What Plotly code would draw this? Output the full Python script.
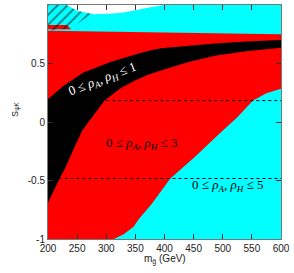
import plotly.graph_objects as go

# ---- data ----
cyan_top_m = [200, 232, 250, 278, 306, 330, 356, 380, 400, 600]
cyan_top_s = [1.0, 1.0, 0.95, 0.92, 0.925, 0.935, 0.963, 0.985, 1.0, 1.0]

red_top_m = [200, 300, 400, 500, 600]
red_top_s = [0.779, 0.772, 0.765, 0.757, 0.75]

red_low_m = [313, 330, 347, 356, 378, 410, 452, 490, 525, 552, 575, 600]
red_low_s = [-1.0, -0.96, -0.895, -0.83, -0.70, -0.483, -0.3, -0.12, 0.04, 0.183, 0.245, 0.285]

black_top_m = [200, 227, 261, 306, 351, 373, 394, 440, 486, 540, 600]
black_top_s = [0.197, 0.31, 0.424, 0.51, 0.58, 0.61, 0.63, 0.652, 0.671, 0.687, 0.70]

black_low_m = [200, 210, 220, 229, 244, 259, 278, 297, 325, 351, 373, 394, 440, 486, 540, 600]
black_low_s = [-0.69, -0.58, -0.48, -0.40, -0.23, -0.07, 0.06, 0.183, 0.29, 0.36, 0.405, 0.44, 0.51, 0.566, 0.605, 0.634]

stripe_m = [200, 240, 232, 200]
stripe_s = [0.793, 0.793, 0.83, 0.83]

hatch_m = [200, 232, 250, 278, 280, 266, 238, 200]
hatch_s = [1.0, 1.0, 0.95, 0.92, 0.925, 0.89, 0.80, 0.78]

dot_start_m = [300, 218]
dot_s = [0.183, -0.483]

x_ticks = [200, 250, 300, 350, 400, 450, 500, 550, 600]
y_ticks = [-1, -0.5, 0, 0.5, 1]
y_labels = ["-1", "-0.5", "0", "0.5", "1"]

fig = go.Figure()

# cyan region (0 <= rho <= 5)
fig.add_trace(go.Scatter(
    x=[200, 600] + cyan_top_m[::-1], y=[-1, -1] + cyan_top_s[::-1],
    fill="toself", fillcolor="#00FFFF", mode="lines", line=dict(width=0),
    hoverinfo="skip", showlegend=False))

# red region (0 <= rho <= 3)
fig.add_trace(go.Scatter(
    x=red_top_m + red_low_m[::-1] + [200],
    y=red_top_s + red_low_s[::-1] + [-1],
    fill="toself", fillcolor="#FF0000", mode="lines", line=dict(width=0),
    hoverinfo="skip", showlegend=False))

# small red stripe
fig.add_trace(go.Scatter(
    x=stripe_m, y=stripe_s, fill="toself", fillcolor="#FF0000",
    mode="lines", line=dict(width=0), hoverinfo="skip", showlegend=False))

# black region (0 <= rho <= 1)
fig.add_trace(go.Scatter(
    x=black_top_m + black_low_m[::-1],
    y=black_top_s + black_low_s[::-1],
    fill="toself", fillcolor="#000000", mode="lines", line=dict(width=0),
    hoverinfo="skip", showlegend=False))

# hatched region
fig.add_trace(go.Scatter(
    x=hatch_m, y=hatch_s, fill="toself", fillcolor="rgba(0,0,0,0)",
    fillpattern=dict(shape="/", fgcolor="#000000", bgcolor="rgba(0,0,0,0)",
                     size=7, solidity=0.25),
    mode="lines", line=dict(width=0), hoverinfo="skip", showlegend=False))

# dotted lines
for xs, ys in zip(dot_start_m, dot_s):
    fig.add_trace(go.Scatter(
        x=[xs, 600], y=[ys, ys], mode="lines",
        line=dict(color="#000000", width=1, dash="dot"),
        hoverinfo="skip", showlegend=False))

lab_font = dict(family="Liberation Serif", size=13)
fig.add_annotation(x=293, y=0.36, text="0 ≤ <i>ρ<sub>A</sub></i>, <i>ρ<sub>H</sub></i> ≤ 1",
                   showarrow=False, textangle=-21, font=dict(color="white", **lab_font))
fig.add_annotation(x=360, y=-0.18, text="0 ≤ <i>ρ<sub>A</sub></i>, <i>ρ<sub>H</sub></i> ≤ 3",
                   showarrow=False, font=dict(color="black", **lab_font))
fig.add_annotation(x=508, y=-0.545, text="0 ≤ <i>ρ<sub>A</sub></i>, <i>ρ<sub>H</sub></i> ≤ 5",
                   showarrow=False, font=dict(color="black", **lab_font))

axis_font = dict(family="Liberation Sans", size=10, color="#222222")
fig.add_annotation(xref="paper", yref="paper", x=0.50, y=-0.125,
                   text="m<sub>g̃</sub> (GeV)", showarrow=False, font=axis_font)
fig.add_annotation(xref="paper", yref="paper", x=-0.175, y=0.557,
                   text="S<sub>ψK</sub>", showarrow=False, textangle=-90,
                   font=dict(family="Liberation Sans", size=9, color="#222222"))

fig.update_xaxes(range=[200, 600], tickvals=x_ticks, ticks="inside", ticklen=5,
                 tickcolor="#333333", showline=True, linecolor="#777777", linewidth=1,
                 mirror="allticks", showgrid=False, zeroline=False, tickfont=axis_font)
fig.update_yaxes(range=[-1, 1], tickvals=y_ticks, ticktext=y_labels, ticks="inside",
                 ticklen=5, tickcolor="#333333", showline=True, linecolor="#777777",
                 linewidth=1, mirror="allticks", showgrid=False, zeroline=False,
                 tickfont=axis_font)

fig.update_layout(width=294, height=273, margin=dict(l=48, r=10, t=4, b=34),
                  paper_bgcolor="white", plot_bgcolor="white", showlegend=False)

fig.write_html("out.html", config={"displayModeBar": False},
               post_script="document.body.style.margin='0';document.body.style.overflow='hidden';")
